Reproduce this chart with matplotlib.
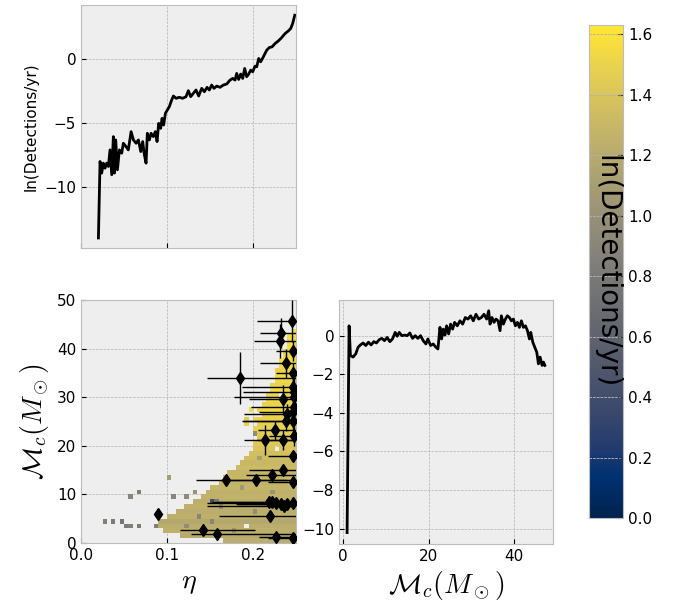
import numpy as np
import matplotlib
matplotlib.use("Agg")
import matplotlib.pyplot as plt

plt.style.use("bmh")

# ---- top-left: ln(rate) vs eta
eta_line = [0.0202, 0.0221, 0.0240, 0.0259, 0.0279, 0.0298, 0.0318, 0.0337, 0.0357, 0.0376,
            0.0388, 0.0403, 0.0423, 0.0446, 0.0473, 0.0492, 0.0523, 0.0550, 0.0582, 0.0609,
            0.0640, 0.0667, 0.0694, 0.0717, 0.0733, 0.0756, 0.0771, 0.0795, 0.0814, 0.0841,
            0.0864, 0.0884, 0.0903, 0.0926, 0.0942, 0.0961, 0.0981, 0.1004, 0.1027, 0.1054,
            0.1074, 0.1105, 0.1143, 0.1182, 0.1221, 0.1248, 0.1275, 0.1306, 0.1337, 0.1368,
            0.1403, 0.1434, 0.1465, 0.1492, 0.1519, 0.1546, 0.1578, 0.1616, 0.1655, 0.1694,
            0.1733, 0.1764, 0.1791, 0.1810, 0.1833, 0.1857, 0.1880, 0.1903, 0.1926, 0.1950,
            0.1973, 0.1996, 0.2023, 0.2043, 0.2066, 0.2089, 0.2120, 0.2159, 0.2190, 0.2221,
            0.2256, 0.2295, 0.2334, 0.2372, 0.2411, 0.2438, 0.2461, 0.2485]
lnrate_eta = [-14.01, -8.02, -8.93, -8.15, -8.54, -8.15, -8.41, -7.11, -9.06, -6.07,
              -8.93, -6.33, -8.67, -7.11, -7.37, -6.59, -6.85, -7.11, -5.68, -6.33,
              -6.59, -6.33, -7.24, -6.46, -7.37, -8.15, -5.81, -6.33, -5.81, -6.07,
              -5.68, -6.46, -5.03, -5.42, -4.64, -5.16, -4.24, -3.98, -3.72, -3.20,
              -2.89, -3.07, -2.99, -3.07, -2.94, -2.47, -2.94, -2.68, -2.42, -2.89,
              -2.29, -2.55, -2.21, -2.42, -2.03, -2.29, -2.11, -2.21, -2.03, -1.95,
              -1.64, -1.51, -1.64, -1.12, -1.59, -1.17, -1.51, -0.73, -1.38, -1.17,
              -0.86, -0.99, -0.55, -0.60, 0.05, -0.21, 0.18, 0.70, 0.91, 0.96,
              1.22, 1.43, 1.69, 2.00, 2.21, 2.40, 2.79, 3.44]

# ---- bottom-right: ln(rate) vs chirp mass
mc_line = [0.94, 1.41, 1.72, 2.34, 2.97, 3.52, 4.06, 4.69, 5.31, 5.94,
           6.56, 7.19, 7.81, 8.44, 9.06, 9.69, 10.31, 10.94, 11.56, 12.19,
           12.66, 13.13, 13.75, 14.38, 15.00, 15.63, 16.25, 16.88, 17.50, 18.13,
           18.75, 19.38, 19.84, 20.47, 21.09, 21.72, 22.19, 22.66, 23.05, 23.44,
           23.83, 24.22, 24.69, 25.16, 25.63, 26.09, 26.72, 27.34, 27.97, 28.59,
           29.22, 29.84, 30.47, 31.09, 31.72, 32.34, 32.97, 33.59, 34.06, 34.38,
           34.84, 35.31, 35.78, 36.25, 36.72, 37.03, 37.50, 37.97, 38.44, 38.91,
           39.38, 39.84, 40.31, 40.78, 41.25, 41.72, 42.19, 42.66, 43.13, 43.59,
           43.91, 44.38, 44.84, 45.31, 45.70, 46.09, 46.56, 46.88, 47.19]
lnrate_mc = [-10.21, 0.51, -1.03, -1.11, -0.94, -0.60, -0.48, -0.38, -0.51, -0.34,
             -0.48, -0.31, -0.38, -0.21, -0.14, -0.26, -0.09, -0.31, -0.17, 0.17,
             -0.03, 0.17, 0.00, 0.03, 0.00, 0.14, -0.14, 0.00, -0.14, 0.00,
             -0.26, -0.43, -0.17, -0.51, -0.43, -0.60, -0.69, 0.43, -0.17, 0.34,
             0.03, 0.51, 0.09, 0.60, 0.34, 0.69, 0.51, 0.77, 0.60, 0.94,
             0.86, 1.03, 0.77, 1.11, 0.86, 0.94, 1.11, 0.86, 1.29, 0.60,
             0.94, 0.69, 0.86, 0.77, 0.26, 1.03, 0.60, 0.86, 1.03, 0.94,
             0.77, 0.86, 0.51, 0.69, 0.43, 0.77, 0.43, 0.51, 0.26, -0.17,
             0.17, -0.34, -0.60, -0.86, -1.46, -1.11, -1.54, -1.37, -1.54]

# ---- bottom-left: 2d histogram (eta bins 0.005, Mc bins 1)
row_start = [0.165, 0.115, 0.095, 0.090, 0.090, 0.100, 0.110, 0.120, 0.130, 0.140,
             0.145, 0.150, 0.160, 0.165, 0.170, 0.180, 0.185, 0.190, 0.195, 0.200,
             0.200, 0.205, 0.205, 0.200, 0.205, 0.200, 0.210, 0.205, 0.210, 0.215,
             0.215, 0.220, 0.220, 0.225, 0.225, 0.225, 0.230, 0.230, 0.235, 0.235,
             0.240, 0.240, 0.240, 0.245]
row_value = [1.22, 1.20, 1.24, 1.22, 1.18, 1.24, 1.22, 1.25, 1.23, 1.26,
             1.25, 1.28, 1.27, 1.30, 1.28, 1.32, 1.30, 1.34, 1.36, 1.40,
             1.42, 1.40, 1.45, 1.48, 1.46, 1.50, 1.48, 1.52, 1.50, 1.52,
             1.50, 1.53, 1.50, 1.52, 1.54, 1.50, 1.52, 1.55, 1.52, 1.54,
             1.55, 1.52, 1.55, 1.56]
# isolated / speckle cells (eta, Mc, value)
cell_eta = [0.026, 0.038, 0.048, 0.052, 0.057, 0.059, 0.066, 0.068, 0.086, 0.087,
            0.101, 0.106, 0.107, 0.120, 0.130, 0.150, 0.158, 0.190, 0.195, 0.192,
            0.200, 0.207, 0.120, 0.150, 0.175, 0.135, 0.200, 0.220, 0.160, 0.185]
cell_mc = [4.8, 4.6, 4.2, 3.6, 3.6, 9.0, 10.5, 3.8, 3.1, 3.4,
           13.2, 9.0, 9.0, 9.0, 10.5, 8.8, 8.8, 24.5, 27.5, 25.5,
           22.5, 17.5, 3.5, 4.5, 2.5, 5.5, 6.5, 10.5, 7.5, 11.5]
cell_val = [0.85, 0.80, 0.75, 0.80, 0.85, 0.90, 0.85, 0.80, 0.90, 0.85,
            1.10, 0.95, 0.90, 0.95, 1.00, 0.40, 0.80, 1.50, 1.55, 1.45,
            0.95, 1.10, 0.95, 0.90, 1.00, 0.90, 0.95, 1.00, 0.95, 1.05]
hole_eta = [0.190, 0.228, 0.235]
hole_mc = [3.8, 19.3, 30.5]

# ---- posterior points with error bars
pt_eta = [0.185, 0.090, 0.142, 0.158, 0.169, 0.203, 0.222, 0.235, 0.247, 0.247,
          0.214, 0.235, 0.226, 0.238, 0.247, 0.235, 0.247, 0.238, 0.231, 0.233,
          0.245, 0.218, 0.222, 0.227, 0.232, 0.236, 0.240, 0.247, 0.220, 0.227,
          0.247, 0.247, 0.248, 0.248, 0.247, 0.248, 0.247, 0.240, 0.248]
pt_mc = [34.0, 6.0, 2.6, 1.8, 12.9, 12.9, 14.0, 15.0, 12.6, 18.0,
         21.2, 21.2, 23.2, 25.0, 25.0, 29.6, 32.0, 37.0, 41.5, 43.2,
         45.7, 8.4, 8.4, 8.2, 8.0, 7.7, 8.0, 8.2, 5.6, 1.3,
         1.0, 39.5, 28.0, 30.0, 27.0, 22.0, 35.0, 26.5, 31.0]
pt_eta_lo = [0.038, 0.002, 0.027, 0.030, 0.035, 0.040, 0.030, 0.040, 0.030, 0.030,
             0.025, 0.030, 0.020, 0.050, 0.060, 0.040, 0.060, 0.030, 0.030, 0.025,
             0.040, 0.060, 0.070, 0.080, 0.050, 0.090, 0.060, 0.050, 0.060, 0.020,
             0.030, 0.020, 0.050, 0.070, 0.040, 0.030, 0.020, 0.050, 0.060]
pt_eta_hi = [0.070, 0.002, 0.060, 0.100, 0.070, 0.050, 0.030, 0.030, 0.010, 0.010,
             0.040, 0.020, 0.030, 0.020, 0.010, 0.020, 0.010, 0.020, 0.030, 0.020,
             0.010, 0.040, 0.040, 0.030, 0.030, 0.020, 0.020, 0.010, 0.040, 0.030,
             0.010, 0.010, 0.010, 0.010, 0.010, 0.010, 0.010, 0.020, 0.010]
pt_mc_err = [5.4, 0.3, 0.3, 0.2, 0.5, 0.5, 0.6, 1.0, 0.8, 1.0,
             3.0, 2.0, 2.0, 2.0, 3.0, 3.0, 4.0, 3.0, 3.5, 3.0,
             4.3, 0.6, 0.6, 0.6, 0.6, 0.6, 0.6, 0.6, 0.8, 0.2,
             0.3, 2.0, 2.5, 3.0, 2.0, 2.0, 2.0, 2.0, 3.0]

vmin, vmax = 0.0, 1.63

fig = plt.figure(figsize=(6.81, 6.08), dpi=100)
ax_top = fig.add_axes([0.119, 0.592, 0.3157, 0.4])
ax_2d = fig.add_axes([0.119, 0.1069, 0.3157, 0.3997])
ax_mc = fig.add_axes([0.4978, 0.1053, 0.3142, 0.4013])
cax = fig.add_axes([0.865, 0.148, 0.05, 0.811])

# top panel
ax_top.plot(eta_line, lnrate_eta, color="k", lw=2)
ax_top.set_xlim(0, 0.25)
ax_top.set_ylim(-14.8, 4.25)
ax_top.set_xticks([0.0, 0.1, 0.2])
ax_top.tick_params(labelbottom=False, labelsize=11)
ax_top.set_ylabel("ln(Detections/yr)", fontsize=11)

# 2d histogram
eta_edges = np.linspace(0, 0.25, 51)
mc_edges = np.linspace(0, 50, 51)
Z = np.full((50, 50), np.nan)
for r, (start, val) in enumerate(zip(row_start, row_value)):
    c0 = int(round(start / 0.005))
    Z[r, c0:] = val
for e, m, v in zip(cell_eta, cell_mc, cell_val):
    Z[int(m), min(int(e / 0.005), 49)] = v
for e, m in zip(hole_eta, hole_mc):
    Z[int(m), min(int(e / 0.005), 49)] = np.nan
mesh = ax_2d.pcolormesh(eta_edges, mc_edges, Z, cmap="cividis", vmin=vmin, vmax=vmax)
ax_2d.set_axisbelow(True)
ax_2d.errorbar(pt_eta, pt_mc, xerr=[pt_eta_lo, pt_eta_hi], yerr=pt_mc_err,
               fmt="d", color="k", ms=6, elinewidth=1, capsize=0, zorder=3)
ax_2d.set_xlim(0, 0.25)
ax_2d.set_ylim(0, 50)
ax_2d.set_xticks([0.0, 0.1, 0.2])
ax_2d.tick_params(labelsize=11)
ax_2d.set_xlabel(r"$\eta$", fontsize=20)
ax_2d.set_ylabel(r"$\mathcal{M}_c(M_\odot)$", fontsize=20)

# chirp-mass panel
ax_mc.plot(mc_line, lnrate_mc, color="k", lw=2)
ax_mc.set_xlim(-0.95, 49.1)
ax_mc.set_ylim(-10.8, 1.85)
ax_mc.set_xticks([0, 20, 40])
ax_mc.set_yticks([0, -2, -4, -6, -8, -10])
ax_mc.tick_params(labelsize=11)
ax_mc.set_xlabel(r"$\mathcal{M}_c(M_\odot)$", fontsize=20)

# colorbar
cb = fig.colorbar(mesh, cax=cax)
cb.set_ticks(np.arange(0, 1.61, 0.2))
cax.tick_params(labelsize=11)
for t in np.arange(0.2, 1.61, 0.2):
    cax.axhline(t, color="#b2b2b2", lw=0.5, ls="--")
cax.text(0.5, 0.5, "ln(Detections/yr)", transform=cax.transAxes, rotation=-90,
         ha="center", va="center", fontsize=20)

fig.savefig("out.png", dpi=100)
